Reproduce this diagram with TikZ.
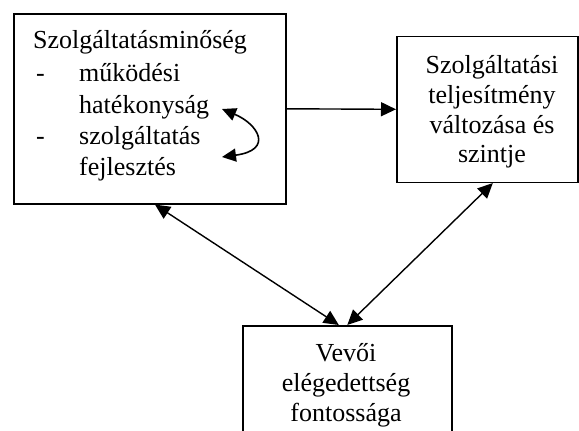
\documentclass[tikz,border=0pt]{standalone}
\usepackage{fontspec}
\setmainfont{Liberation Serif}
\usetikzlibrary{arrows.meta}
\tikzset{
  box/.style={draw, line width=1.6pt, rectangle, inner sep=0pt, anchor=north west},
  txt/.style={font=\fontsize{26}{31}\selectfont, inner sep=0pt, anchor=base west},
  ctxt/.style={font=\fontsize{26}{31}\selectfont, inner sep=0pt, anchor=base},
  arr/.style={line width=1.4pt, -{Triangle[length=15pt,width=14pt]}},
  dbl/.style={line width=1.4pt, {Triangle[length=15pt,width=14pt]}-{Triangle[length=15pt,width=14pt]}},
  cdbl/.style={line width=1.6pt, {Triangle[length=14pt,width=13pt]}-{Triangle[length=14pt,width=13pt]}}
}
\begin{document}
\begin{tikzpicture}[x=1pt,y=-1pt]
\useasboundingbox (0,0) rectangle (579,431);
\clip (0,0) rectangle (579,431);
% boxes
\node[box, minimum width=272pt, minimum height=190pt] (b1) at (13,13) {};
\node[box, minimum width=181pt, minimum height=146pt] (b2) at (396,35.5) {};
\node[box, minimum width=209pt, minimum height=130pt] (b3) at (242,325) {};
% box 1 text
\node[txt] (t1) at (33,48) {Szolgáltatásminőség};
\node[txt] (d1) at (36,81) {-};
\node[txt] (t2) at (79,81) {működési};
\node[txt] (t3) at (79,113) {hatékonyság};
\node[txt] (d2) at (36,144) {-};
\node[txt] (t4) at (79,144) {szolgáltatás};
\node[txt] (t5) at (79,175) {fejlesztés};
% box 2 text
\node[ctxt] (s1) at (492,73) {Szolgáltatási};
\node[ctxt] (s2) at (492,103) {teljesítmény};
\node[ctxt] (s3) at (492,133) {változása és};
\node[ctxt] (s4) at (492,162) {szintje};
% box 3 text
\node[ctxt] (v1) at (346,361) {Vevői};
\node[ctxt] (v2) at (346,391) {elégedettség};
\node[ctxt] (v3) at (346,421) {fontossága};
% connectors
\draw[arr] (b1.east) -- (b2.west);
\draw[dbl] ([xshift=142pt]b1.south west) -- ([xshift=-8.5pt]b3.north);
\draw[dbl] ([xshift=5.5pt]b2.south) -- (b3.north);
\coordinate (c1) at (222,109);
\coordinate (c2) at (222,157);
\draw[cdbl] (c1) .. controls (258,124) and (274,150) .. (c2);
\end{tikzpicture}
\end{document}
